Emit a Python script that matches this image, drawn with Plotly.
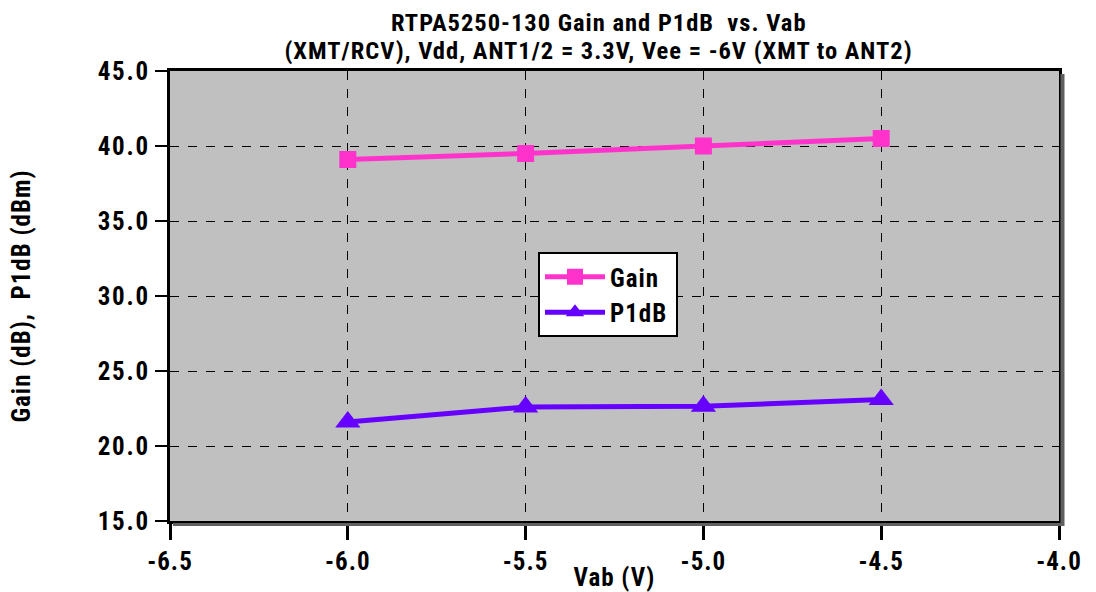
import plotly.graph_objects as go

vab = [-6.0, -5.5, -5.0, -4.5]
gain = [39.1, 39.5, 40.0, 40.5]
p1db = [21.6, 22.6, 22.65, 23.1]
x_ticks = [-6.5, -6.0, -5.5, -5.0, -4.5, -4.0]
y_ticks = [15, 20, 25, 30, 35, 40, 45]
title_lines = ["RTPA5250-130 Gain and P1dB  vs. Vab",
               "(XMT/RCV), Vdd, ANT1/2 = 3.3V, Vee = -6V (XMT to ANT2)"]

FONT = "Roboto, Liberation Sans, sans-serif"

fig = go.Figure()
fig.add_trace(go.Scatter(x=vab, y=gain, name="Gain", mode="lines+markers",
                         line=dict(color="#FF33CC", width=5),
                         marker=dict(symbol="square", size=17, color="#FF33CC")))
fig.add_trace(go.Scatter(x=vab, y=p1db, name="P1dB", mode="lines+markers",
                         line=dict(color="#6600FF", width=5),
                         marker=dict(symbol="triangle-up", size=22, color="#6600FF")))

L, R, T, B = 170, 1059, 71, 521
W, H = R - L, B - T
# shadow on right and bottom of plot frame
fig.add_shape(type="line", xref="paper", yref="paper",
              x0=1 + 3.5 / W, x1=1 + 3.5 / W, y0=-5 / H, y1=1 - 3 / H,
              line=dict(color="#606060", width=4), layer="above")
fig.add_shape(type="line", xref="paper", yref="paper",
              x0=3 / W, x1=1 + 5 / W, y0=-3.5 / H, y1=-3.5 / H,
              line=dict(color="#606060", width=3), layer="above")

for line, py in zip(title_lines, [22, 50]):
    fig.add_annotation(text=line, xref="paper", yref="paper",
                       x=(598 - L) / W, y=(B - py) / H, xanchor="center", yanchor="middle",
                       showarrow=False, font=dict(family=FONT, size=24.5, weight="bold"))

fig.update_layout(
    width=1096, height=592,
    margin=dict(l=L, r=1096 - R, t=T, b=592 - B, autoexpand=False),
    paper_bgcolor="white", plot_bgcolor="#C0C0C0",
    font=dict(family=FONT, color="black", size=25, weight="bold"),
    showlegend=True,
    legend=dict(x=(538 - L) / W, y=(B - 252) / H, xanchor="left", yanchor="top",
                bgcolor="white", bordercolor="black", borderwidth=2,
                font=dict(family=FONT, size=25, weight="bold"),
                itemwidth=60, tracegroupgap=0),
)
fig.update_xaxes(range=[-6.5, -4.0], tickvals=x_ticks,
                 ticktext=[f"{v:.1f}" for v in x_ticks],
                 showgrid=True, gridcolor="black", griddash="dash", gridwidth=1,
                 showline=True, linecolor="black", linewidth=3, mirror=True,
                 ticks="outside", ticklen=16, tickwidth=3, tickcolor="black",
                 zeroline=False, automargin=False,
                 title=dict(text="Vab (V)", standoff=1, font=dict(family=FONT, size=25, weight="bold")))
fig.update_yaxes(range=[15, 45], tickvals=y_ticks,
                 ticktext=[f"{v:.1f}" for v in y_ticks],
                 showgrid=True, gridcolor="black", griddash="dash", gridwidth=1,
                 showline=True, linecolor="black", linewidth=3, mirror=True,
                 ticks="outside", ticklen=12, tickwidth=2, tickcolor="black",
                 zeroline=False, automargin=False,
                 title=dict(text="Gain (dB),  P1dB (dBm)", standoff=62, font=dict(family=FONT, size=25, weight="bold")))

ps = """
document.body.style.margin='0';
document.querySelectorAll('.js-plotly-plot text').forEach(function(t){
  t.style.fontStretch='87.5%';
  t.style.letterSpacing='1px';
});
document.querySelectorAll('.js-plotly-plot .ytick text').forEach(function(t){
  t.style.letterSpacing='1.8px';
});
"""
fig.write_html("out.html", post_script=ps, config={"displayModeBar": False})
